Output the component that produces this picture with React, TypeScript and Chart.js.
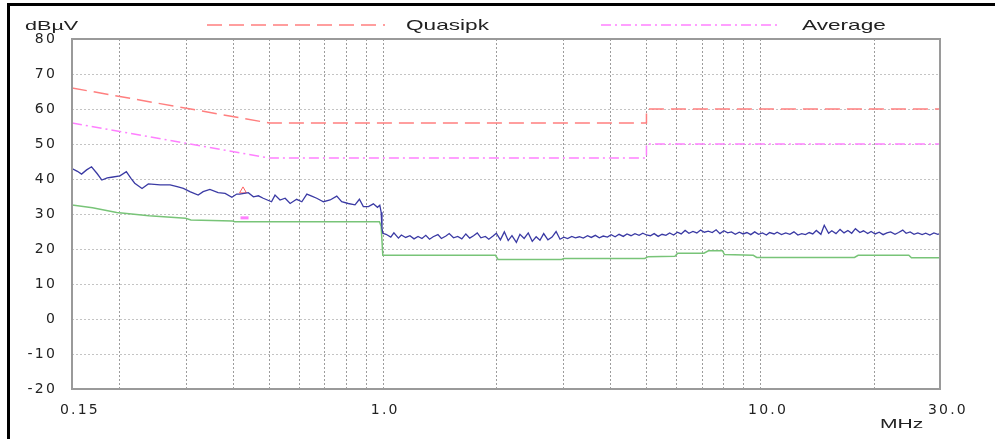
import React, { useEffect, useRef } from "react";
import { Chart, registerables } from "chart.js";

Chart.register(...registerables);

// ---- data ----
const QP_FREQ = [0.15, 0.5, 5, 5, 30];
const QP_LIMIT = [66, 56, 56, 60, 60];
const AV_FREQ = [0.15, 0.5, 5, 5, 30];
const AV_LIMIT = [56, 46, 46, 50, 50];

const PEAK_FREQ = [
  0.150, 0.155, 0.159, 0.164, 0.169, 0.175, 0.180, 0.186, 0.191, 0.201, 0.209, 0.215, 0.220, 0.230,
  0.239, 0.257, 0.273, 0.285, 0.296, 0.308, 0.324, 0.334, 0.348, 0.366, 0.382, 0.398, 0.410, 0.418,
  0.440, 0.454, 0.468, 0.482, 0.507, 0.518, 0.534, 0.551, 0.568, 0.591, 0.610, 0.629, 0.648, 0.668,
  0.696, 0.725, 0.755, 0.778, 0.810, 0.844, 0.867, 0.888, 0.916, 0.944, 0.968, 0.982, 0.990, 0.995,
  1.000,
  1.02, 1.05, 1.07, 1.10, 1.12, 1.15, 1.18, 1.21, 1.24, 1.27, 1.30, 1.33, 1.36, 1.40, 1.43, 1.47,
  1.50, 1.54, 1.58, 1.62, 1.66, 1.70, 1.74, 1.78, 1.82, 1.87, 1.91, 1.96, 2.00, 2.05, 2.10, 2.15,
  2.20, 2.26, 2.31, 2.37, 2.43, 2.49, 2.55, 2.61, 2.67, 2.74, 2.81, 2.88, 2.95, 3.02, 3.09, 3.17,
  3.24, 3.32, 3.40, 3.49, 3.57, 3.66, 3.75, 3.84, 3.94, 4.03, 4.13, 4.23, 4.34, 4.44, 4.55, 4.66,
  4.78, 4.89, 5.00,
  5.12, 5.24, 5.37, 5.50, 5.63, 5.76, 5.90, 6.04, 6.18, 6.33, 6.48, 6.64, 6.80, 6.96, 7.12, 7.29,
  7.47, 7.65, 7.83, 8.02, 8.21, 8.40, 8.60, 8.81, 9.02, 9.23, 9.45, 9.68, 9.91, 10.15, 10.4, 10.6,
  10.9, 11.1, 11.4, 11.7, 12.0, 12.3, 12.6, 12.9, 13.2, 13.5, 13.8, 14.1, 14.5, 14.8, 15.2, 15.5,
  15.9, 16.3, 16.7, 17.1, 17.5, 17.9, 18.4, 18.8, 19.3, 19.7, 20.2, 20.7, 21.2, 21.7, 22.2, 22.8,
  23.3, 23.9, 24.4, 25.0, 25.6, 26.2, 26.9, 27.5, 28.2, 28.9, 29.6, 30.0,
];
const PEAK_VAL = [
  43.0, 42.2, 41.4, 42.6, 43.5, 41.5, 39.7, 40.3, 40.5, 40.9, 42.1, 40.2, 38.8, 37.3,
  38.6, 38.3, 38.3, 37.8, 37.3, 36.4, 35.4, 36.4, 37.0, 36.1, 35.9, 34.8, 35.7, 35.7,
  36.1, 34.9, 35.2, 34.5, 33.5, 35.4, 34.0, 34.5, 33.0, 34.2, 33.5, 35.7, 35.1, 34.5,
  33.5, 34.0, 35.1, 33.5, 33.0, 32.6, 34.2, 32.1, 32.1, 32.9, 31.9, 32.5, 30.5, 26.0,
  24.5,
  24.2, 23.4, 24.6, 23.1, 24.0, 23.3, 23.8, 22.9, 23.6, 23.0, 23.9, 22.8, 23.5, 24.1, 23.0, 23.7,
  24.4, 23.2, 23.6, 22.9, 24.3, 23.1, 23.8, 24.6, 23.2, 23.6, 22.8, 23.7, 24.5, 22.6, 24.9, 22.4,
  23.8, 21.9, 24.2, 23.0, 24.6, 22.2, 23.5, 22.5, 24.4, 22.6, 23.4, 25.0, 22.8, 23.4, 23.0, 23.6,
  23.2, 23.5, 23.1, 23.8, 23.3, 23.9, 23.2, 23.7, 23.4, 24.1, 23.5, 24.2, 23.6, 24.3, 23.8, 24.4,
  23.9, 24.5, 24.0,
  23.8, 24.4, 23.6, 24.2, 23.9, 24.6, 24.0, 24.8, 24.3, 25.3, 24.5, 25.0, 24.6, 25.4, 24.8, 25.1,
  24.7, 25.5, 24.4, 25.2, 24.6, 24.9, 24.2, 24.8, 24.3, 24.7, 24.1, 24.9, 24.2, 24.6, 24.0, 24.7,
  24.3, 24.8, 24.1, 24.6, 24.2, 24.9, 24.0, 24.4, 24.1, 24.7, 24.3, 25.3, 24.2, 26.8, 24.5, 25.2,
  24.4, 25.6, 24.6, 25.3, 24.5, 25.8, 24.7, 25.2, 24.4, 25.0, 24.3, 24.8, 24.1, 24.6, 24.9, 24.2,
  24.7, 25.4, 24.5, 24.9, 24.2, 24.6, 24.1, 24.5, 24.0, 24.6, 24.2, 24.4,
];

const AVG_FREQ = [
  0.15, 0.17, 0.197, 0.24, 0.30, 0.31, 0.40, 0.405, 0.98, 0.99, 1.0, 1.99, 2.02, 2.98, 3.02, 4.95,
  5.05, 5.95, 6.05, 7.1, 7.3, 7.95, 8.05, 9.6, 9.8, 17.8, 18.2, 24.8, 25.2, 30,
];
const AVG_VAL = [
  32.6, 31.8, 30.4, 29.5, 28.8, 28.3, 28.0, 27.8, 27.8, 26.5, 18.2, 18.2, 17.0, 17.0, 17.3, 17.3,
  17.8, 17.9, 18.8, 18.8, 19.5, 19.5, 18.4, 18.2, 17.6, 17.6, 18.2, 18.2, 17.5, 17.5,
];

const MARK_QP_FREQ = [0.426];
const MARK_QP_VAL = [36.6];
const MARK_AV_FREQ = [0.43];
const MARK_AV_VAL = [28.9];

const X_GRID = [0.15, 0.2, 0.3, 0.4, 0.5, 0.6, 0.7, 0.8, 0.9, 1, 2, 3, 4, 5, 6, 7, 8, 9, 10, 20, 30];
const X_LABEL_VALUES = [0.15, 1, 10, 30];
const X_LABEL_TEXT = ["0.15", "1.0", "10.0", "30.0"];
const Y_TICKS = [-20, -10, 0, 10, 20, 30, 40, 50, 60, 70, 80];

const LEGEND_NAMES = ["Quasipk", "Average"];
const Y_UNIT = "dBµV";
const X_UNIT = "MHz";

const pts = (fs: number[], vs: number[]) => fs.map((f, i) => ({ x: f, y: vs[i] }));

const FONT = '"Liberation Sans", Arial, sans-serif';
const TICK_FONT = '"DejaVu Sans", sans-serif';

function stretchedText(ctx: CanvasRenderingContext2D, text: string, x: number, y: number, size: number, sx: number) {
  ctx.save();
  ctx.translate(x, y);
  ctx.scale(sx, 1);
  ctx.font = `${size}px ${FONT}`;
  ctx.fillStyle = "#222";
  ctx.textAlign = "left";
  ctx.textBaseline = "middle";
  ctx.fillText(text, 0, 0);
  ctx.restore();
}

const decorPlugin = {
  id: "decor",
  beforeDraw(chart: any) {
    (chart.ctx as any).letterSpacing = "2.2px";
  },
  beforeDatasetsDraw(chart: any) {
    const { ctx, chartArea: a, scales } = chart;
    ctx.save();
    ctx.lineWidth = 1;
    ctx.setLineDash([2, 2]);
    ctx.strokeStyle = "#c4c4c4";
    scales.y.ticks.forEach((t: any) => {
      const y = Math.round(scales.y.getPixelForValue(t.value)) + 0.5;
      ctx.beginPath();
      ctx.moveTo(a.left, y);
      ctx.lineTo(a.right, y);
      ctx.stroke();
    });
    ctx.strokeStyle = "#9c9c9c";
    scales.x.ticks.forEach((t: any) => {
      const x = Math.round(scales.x.getPixelForValue(t.value)) + 0.5;
      ctx.beginPath();
      ctx.moveTo(x, a.top);
      ctx.lineTo(x, a.bottom);
      ctx.stroke();
    });
    ctx.restore();
  },
  afterDatasetsDraw(chart: any) {
    const { ctx, chartArea: a } = chart;
    ctx.save();
    ctx.setLineDash([]);
    ctx.strokeStyle = "#9a9a9a";
    ctx.lineWidth = 2;
    ctx.strokeRect(a.left, a.top, a.right - a.left, a.bottom - a.top);
    ctx.restore();
  },
  afterDraw(chart: any) {
    const ctx = chart.ctx as CanvasRenderingContext2D;
    (ctx as any).letterSpacing = "0px";
    ctx.save();
    ctx.fillStyle = "#000";
    ctx.fillRect(7, 3, 3, 436);
    ctx.fillRect(7, 3, 988, 3);
    const items = [
      { ds: chart.data.datasets[2], x0: 207, x1: 385, tx: 406 },
      { ds: chart.data.datasets[3], x0: 601, x1: 777, tx: 802 },
    ];
    items.forEach((it, i) => {
      ctx.save();
      ctx.strokeStyle = it.ds.borderColor;
      ctx.lineWidth = it.ds.borderWidth;
      ctx.setLineDash(it.ds.borderDash || []);
      ctx.beginPath();
      ctx.moveTo(it.x0, 25);
      ctx.lineTo(it.x1, 25);
      ctx.stroke();
      ctx.restore();
      stretchedText(ctx, LEGEND_NAMES[i], it.tx, 26, 14.5, 1.56);
    });
    stretchedText(ctx, Y_UNIT, 25, 26, 13.5, 1.6);
    stretchedText(ctx, X_UNIT, 880, 424, 13, 1.62);
    ctx.restore();
  },
};

export default function App() {
  const ref = useRef<HTMLCanvasElement | null>(null);

  useEffect(() => {
    if (!ref.current) return;
    const chart = new Chart(ref.current, {
      type: "line",
      data: {
        datasets: [
          {
            label: "Peak",
            data: pts(PEAK_FREQ, PEAK_VAL),
            borderColor: "#3a3aa4",
            borderWidth: 1.3,
            pointRadius: 0,
            tension: 0,
            fill: false,
          },
          {
            label: "Avg meas",
            data: pts(AVG_FREQ, AVG_VAL),
            borderColor: "#78c478",
            borderWidth: 1.5,
            pointRadius: 0,
            tension: 0,
            fill: false,
          },
          {
            label: LEGEND_NAMES[0],
            data: pts(QP_FREQ, QP_LIMIT),
            borderColor: "#ff7f7f",
            borderWidth: 1.5,
            borderDash: [15, 7],
            pointRadius: 0,
            tension: 0,
            fill: false,
          },
          {
            label: LEGEND_NAMES[1],
            data: pts(AV_FREQ, AV_LIMIT),
            borderColor: "#ff80ff",
            borderWidth: 1.5,
            borderDash: [10, 4, 2, 4],
            pointRadius: 0,
            tension: 0,
            fill: false,
          },
          {
            label: "QP marker",
            data: pts(MARK_QP_FREQ, MARK_QP_VAL),
            showLine: false,
            pointStyle: "triangle",
            pointRadius: 4,
            pointBorderWidth: 1,
            pointBorderColor: "#ff6060",
            pointBackgroundColor: "rgba(0,0,0,0)",
            borderColor: "#ff6060",
          },
          {
            label: "AV marker",
            data: pts(MARK_AV_FREQ, MARK_AV_VAL),
            showLine: false,
            pointStyle: "line",
            pointRadius: 4,
            pointBorderWidth: 3,
            pointBorderColor: "#ff80ff",
            borderColor: "#ff80ff",
          },
        ],
      } as any,
      options: {
        responsive: false,
        maintainAspectRatio: false,
        animation: false,
        events: [],
        layout: { padding: { left: 0, top: 39, right: 55, bottom: 0 } },
        plugins: { legend: { display: false }, tooltip: { enabled: false } },
        scales: {
          x: {
            type: "logarithmic",
            min: 0.15,
            max: 30,
            afterBuildTicks: (s: any) => {
              s.ticks = X_GRID.map((v) => ({ value: v }));
            },
            afterFit: (s: any) => {
              s.height = 50;
            },
            grid: { display: false, drawTicks: false },
            border: { display: false },
            ticks: {
              autoSkip: false,
              maxRotation: 0,
              minRotation: 0,
              align: "start",
              labelOffset: -12,
              padding: 13,
              color: "#222",
              font: { family: TICK_FONT, size: 14 },
              callback: (v: any) => {
                const k = X_LABEL_VALUES.findIndex((t) => Math.abs(t - Number(v)) < 1e-9);
                return k >= 0 ? X_LABEL_TEXT[k] : "";
              },
            },
          },
          y: {
            type: "linear",
            min: -20,
            max: 80,
            afterBuildTicks: (s: any) => {
              s.ticks = Y_TICKS.map((v) => ({ value: v }));
            },
            afterFit: (s: any) => {
              s.width = 72;
            },
            grid: { display: false, drawTicks: false },
            border: { display: false },
            ticks: {
              padding: 15,
              color: "#222",
              font: { family: TICK_FONT, size: 14 },
              callback: (v: any) => String(v),
            },
          },
        },
      } as any,
      plugins: [decorPlugin],
    });
    return () => chart.destroy();
  }, []);

  return (
    <div style={{ position: "fixed", left: 0, top: 0, width: 995, height: 439, background: "#fff" }}>
      <canvas ref={ref} width={995} height={439} style={{ display: "block", width: 995, height: 439 }} />
    </div>
  );
}
